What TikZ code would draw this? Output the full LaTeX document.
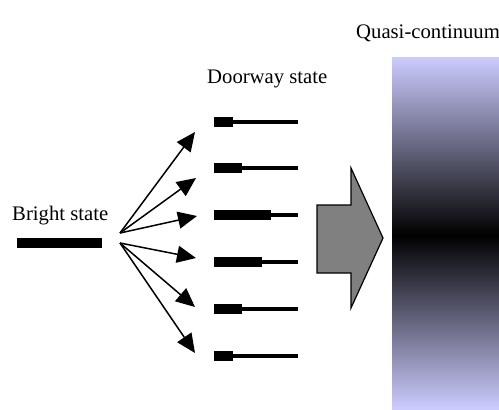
\documentclass[tikz,border=0pt]{standalone}
\usepackage{fontspec}
\setmainfont{Liberation Serif}
\usetikzlibrary{arrows.meta}
\definecolor{lav}{RGB}{204,204,255}
\definecolor{arrgray}{RGB}{128,128,128}
\tikzset{
  lbl/.style={inner sep=0pt, anchor=base west, font=\fontsize{20.7bp}{24bp}\selectfont},
  lvlbox/.style={fill=black, inner sep=0pt, minimum height=10bp, anchor=west},
  lvlline/.style={line width=3.3bp},
  fanarrow/.style={line width=1.5bp, -{Triangle[length=19bp,width=17bp]}},
}
\begin{document}
\begin{tikzpicture}[x=1bp,y=-1bp]
\useasboundingbox (0,0) rectangle (499,409);
% quasi-continuum
\shade[top color=lav, bottom color=black] (392,57) rectangle (499,235.5);
\shade[top color=black, bottom color=lav] (392,235) rectangle (499,409);
% labels
\node[lbl] (qc) at (356,38) {Quasi-continuum};
\node[lbl] (dw) at (207,83) {Doorway state};
\node[lbl] (bs) at (12,220) {Bright state};
% bright state level
\node[lvlbox, minimum width=85bp] (bright) at (17,243) {};
% doorway levels
\foreach \i/\y/\w in {1/122/19, 2/168/28, 3/215/57, 4/262/48, 5/309/28, 6/356/19}{
  \node[lvlbox, minimum width=\w bp] (d\i) at (214,\y) {};
  \coordinate (e\i) at (298,\y);
  \draw[lvlline] (d\i.east) -- (e\i);
}
% fan arrows
\coordinate (su) at (120,233);
\coordinate (sd) at (120,243);
\coordinate (t1) at (195,132);
\coordinate (t2) at (196,178);
\coordinate (t3) at (197,216);
\coordinate (t4) at (196,258);
\coordinate (t5) at (195,307);
\coordinate (t6) at (195,353);
\foreach \i in {1,2,3}{ \draw[fanarrow] (su) -- (t\i); }
\foreach \i in {4,5,6}{ \draw[fanarrow] (sd) -- (t\i); }
% big arrow
\draw[fill=arrgray, line width=1.2bp, line join=miter]
  (317,205) -- (351,205) -- (351,168) -- (383,238) -- (351,308) -- (351,273) -- (317,273) -- cycle;
\end{tikzpicture}
\end{document}
